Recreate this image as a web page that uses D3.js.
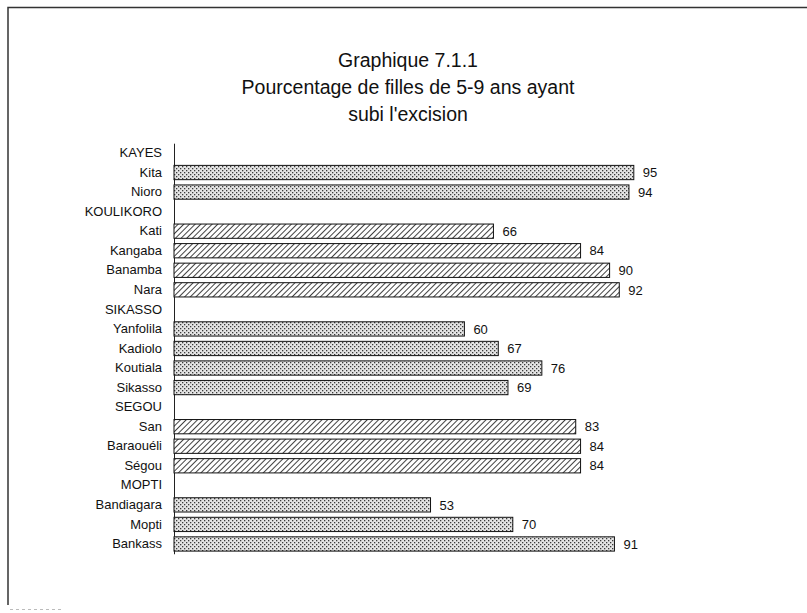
<!DOCTYPE html>
<html>
<head>
<meta charset="utf-8">
<script src="https://cdn.jsdelivr.net/npm/d3@7"></script>
<style>
  html, body { margin: 0; padding: 0; background: #fff; }
  svg { display: block; }
  text { font-family: "Liberation Sans", Arial, sans-serif; fill: #111; }
</style>
</head>
<body>
<svg id="chart" width="807" height="613"></svg>
<script>
const titleLines = ["Graphique 7.1.1", "Pourcentage de filles de 5-9 ans ayant", "subi l'excision"];
const categories = ["KAYES","Kita","Nioro","KOULIKORO","Kati","Kangaba","Banamba","Nara","SIKASSO","Yanfolila","Kadiolo","Koutiala","Sikasso","SEGOU","San","Baraouéli","Ségou","MOPTI","Bandiagara","Mopti","Bankass"];
const values = [null,95,94,null,66,84,90,92,null,60,67,76,69,null,83,84,84,null,53,70,91];
const regionOfRow = ["KAYES","KAYES","KAYES","KOULIKORO","KOULIKORO","KOULIKORO","KOULIKORO","KOULIKORO","SIKASSO","SIKASSO","SIKASSO","SIKASSO","SIKASSO","SEGOU","SEGOU","SEGOU","SEGOU","MOPTI","MOPTI","MOPTI","MOPTI"];
const regionPattern = {KAYES:"dots", KOULIKORO:"hatch", SIKASSO:"dots", SEGOU:"hatch", MOPTI:"dots"};

const svg = d3.select("#chart");
const defs = svg.append("defs");

// dotted (stipple) pattern
const pd = defs.append("pattern").attr("id","dots").attr("patternUnits","userSpaceOnUse")
  .attr("width",4).attr("height",4);
pd.append("rect").attr("width",4).attr("height",4).attr("fill","#e4e4e4");
pd.append("rect").attr("x",0).attr("y",0).attr("width",1.3).attr("height",1.3).attr("fill","#3a3a3a");
pd.append("rect").attr("x",2).attr("y",2).attr("width",1.3).attr("height",1.3).attr("fill","#3a3a3a");

// diagonal hatch pattern
const ph = defs.append("pattern").attr("id","hatch").attr("patternUnits","userSpaceOnUse")
  .attr("width",4).attr("height",4).attr("patternTransform","rotate(45)");
ph.append("rect").attr("width",4).attr("height",4).attr("fill","#fff");
ph.append("line").attr("x1",0).attr("y1",0).attr("x2",0).attr("y2",4)
  .attr("stroke","#111").attr("stroke-width",1.6);

// frame (top and left edges)
svg.append("path").attr("d","M8,605 L8,7.5 L807,7.5").attr("fill","none")
  .attr("stroke","#333").attr("stroke-width",1.5);
svg.append("line").attr("x1",10).attr("x2",62).attr("y1",609.5).attr("y2",609.5)
  .attr("stroke","#bbb").attr("stroke-width",1).attr("stroke-dasharray","3,3");

// title
svg.append("g").selectAll("text").data(titleLines).join("text")
  .attr("x", 408).attr("y", (d,i) => 67 + i*27)
  .attr("text-anchor","middle").attr("font-size", 19.5).text(d => d);

const x = d3.scaleLinear().domain([0,100]).range([174, 658]);
const y = d3.scaleBand().domain(categories).range([143.2, 143.2 + 21*19.55])
  .paddingInner(0.27).paddingOuter(0.135);

const axis = d3.axisLeft(y).tickSize(0).tickPadding(12);
const gAxis = svg.append("g").attr("transform","translate(174,0)").call(axis);
gAxis.select(".domain").attr("stroke","#222").attr("stroke-width",1);
gAxis.selectAll("text").attr("font-size",13).attr("fill","#111")
  .style("font-family",'"Liberation Sans", Arial, sans-serif');

const rows = categories.map((c,i) => ({cat:c, value:values[i], region:regionOfRow[i]}))
  .filter(d => d.value !== null);

svg.append("g").selectAll("rect").data(rows).join("rect")
  .attr("x", x(0)).attr("y", d => y(d.cat))
  .attr("width", d => x(d.value) - x(0)).attr("height", y.bandwidth())
  .attr("fill", d => `url(#${regionPattern[d.region]})`)
  .attr("stroke","#111").attr("stroke-width",1);

svg.append("g").selectAll("text").data(rows).join("text")
  .attr("x", d => x(d.value) + 9).attr("y", d => y(d.cat) + y.bandwidth()/2)
  .attr("dy","0.36em").attr("font-size",13).text(d => d.value);
</script>
</body>
</html>
